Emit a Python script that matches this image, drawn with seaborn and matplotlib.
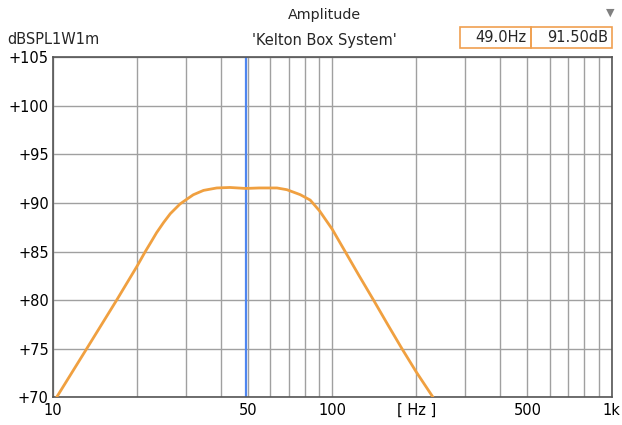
import numpy as np
import pandas as pd
import matplotlib
matplotlib.use("Agg")
import matplotlib.pyplot as plt
from matplotlib.ticker import FixedLocator, FixedFormatter, NullFormatter
import seaborn as sns

# values
freq_hz = [10.3, 13.2, 16.9, 20.0, 21.4, 22.3, 23.5, 24.9, 26.3, 28.5,
           30.0, 31.8, 34.6, 38.6, 43.0, 49.0, 54.7, 63.4, 68.8, 76.8,
           83.4, 90.0, 100.0, 109.7, 124.3, 140.6, 157.9, 177.7, 200.0, 229.6]
spl_db = [70.0, 75.0, 80.0, 83.5, 85.0, 85.85, 86.95, 88.0, 88.9, 89.9,
          90.35, 90.85, 91.3, 91.55, 91.6, 91.5, 91.55, 91.55, 91.37, 90.86,
          90.3, 89.2, 87.3, 85.3, 82.6, 80.0, 77.5, 75.0, 72.6, 70.0]

x_ticks = [10, 50, 100, 200, 500, 1000]
x_labels = ["10", "50", "100", "[ Hz ]", "500", "1k"]
y_ticks = [70, 75, 80, 85, 90, 95, 100, 105]
y_labels = ["+%d" % v for v in y_ticks]

cursor_hz = 49.0
cursor_db = 91.50

df = pd.DataFrame({"Hz": freq_hz, "dB": spl_db})

sns.set_theme(style="white")
plt.rcParams['font.family'] = ['DejaVu Sans']

fig = plt.figure(figsize=(6.22, 4.25), dpi=100)
ax = fig.add_axes([53 / 622, 1 - 397.3 / 425, 558.5 / 622, 340 / 425])

ax.set_xscale("log")
ax.set_xlim(10, 1000)
ax.set_ylim(70, 105)

ax.xaxis.set_major_locator(FixedLocator(x_ticks))
ax.xaxis.set_major_formatter(FixedFormatter(x_labels))
minor = [m * d for d in (10, 100) for m in range(2, 10)]
ax.xaxis.set_minor_locator(FixedLocator(minor))
ax.xaxis.set_minor_formatter(NullFormatter())
ax.set_yticks(y_ticks)
ax.set_yticklabels(y_labels)

ax.grid(True, which="both", axis="x", color="#a0a0a0", linewidth=1.0)
ax.grid(True, which="major", axis="y", color="#a0a0a0", linewidth=1.0)
ax.set_axisbelow(True)

ax.axvline(cursor_hz, color="#4f86f0", linewidth=1.6, zorder=2)

sns.lineplot(data=df, x="Hz", y="dB", ax=ax, color="#f0a040",
             linewidth=2.0, zorder=3)
ax.set_xlabel("")
ax.set_ylabel("")

for s in ax.spines.values():
    s.set_color("#555555")
    s.set_linewidth(1.2)

ax.tick_params(axis="both", which="both", length=0, labelsize=10.5,
               colors="black", pad=3)
ax.tick_params(axis="x", pad=4)

fig.text(324 / 622, 1 - 15 / 425, "Amplitude", ha="center", va="center",
         fontsize=10.3)
fig.text(324 / 622, 1 - 40 / 425, "'Kelton Box System'", ha="center",
         va="center", fontsize=10.5)
fig.text(7 / 622, 1 - 40 / 425, "dBSPL1W1m", ha="left", va="center",
         fontsize=10.5)

# readout boxes
box_y0 = 1 - 47.5 / 425
box_h = 20.5 / 425
for x0, x1, txt in [(460, 530.7, "%.1fHz" % cursor_hz),
                    (530.7, 611.7, "%.2fdB" % cursor_db)]:
    fig.patches.append(plt.Rectangle((x0 / 622, box_y0), (x1 - x0) / 622,
                                     box_h, transform=fig.transFigure,
                                     fill=False, edgecolor="#f0a050",
                                     linewidth=1.2))
    fig.text((x1 - 4) / 622, box_y0 + box_h / 2, txt, ha="right",
             va="center", fontsize=10.5)

fig.text(610 / 622, 1 - 13 / 425, "\u25bc", ha="center", va="center",
         fontsize=8, color="#808080")

fig.savefig("out.png", dpi=100)
